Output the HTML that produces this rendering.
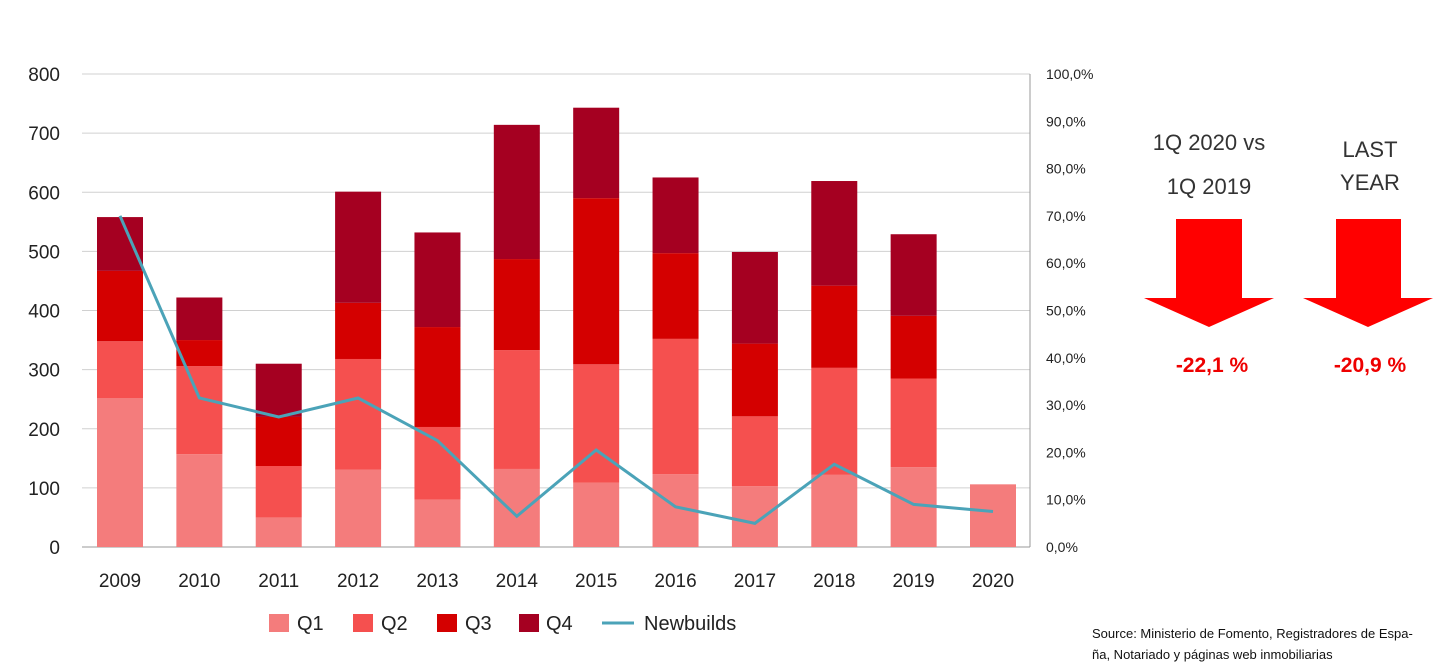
<!DOCTYPE html>
<html><head><meta charset="utf-8"><style>
body{margin:0;background:#fff;font-family:"Liberation Sans",sans-serif;}
svg text{font-family:"Liberation Sans",sans-serif;}
</style></head><body>
<svg width="1454" height="666" viewBox="0 0 1454 666">
<g id="grid"></g><g id="bars"></g><g id="line"></g><g id="labels"></g>
<g font-size="20" fill="#222">
<rect x="269" y="614" width="20" height="18" fill="#f47c7c"/><text x="297" y="630">Q1</text>
<rect x="353" y="614" width="20" height="18" fill="#f5504f"/><text x="381" y="630">Q2</text>
<rect x="437" y="614" width="20" height="18" fill="#d40000"/><text x="465" y="630">Q3</text>
<rect x="519" y="614" width="20" height="18" fill="#a50021"/><text x="546" y="630">Q4</text>
<line x1="602" y1="623" x2="634" y2="623" stroke="#4ba3b8" stroke-width="3"/><text x="644" y="630">Newbuilds</text>
</g>
<g font-size="22" fill="#333" text-anchor="middle">
<text x="1209" y="150">1Q 2020 vs</text><text x="1209" y="194">1Q 2019</text>
<path d="M1176 219H1242V298H1274L1209 327L1144 298H1176Z" fill="#f00"/>
<text x="1212" y="372" fill="#e00" font-weight="bold" font-size="21">-22,1 %</text>
</g>
<g font-size="22" fill="#333" text-anchor="middle">
<text x="1370" y="157">LAST</text><text x="1370" y="190">YEAR</text>
<path d="M1336 219H1401V298H1433L1368 327L1303 298H1336Z" fill="#f00"/>
<text x="1370" y="372" fill="#e00" font-weight="bold" font-size="21">-20,9 %</text>
</g>
<g font-size="13" fill="#111">
<text x="1092" y="638">Source: Ministerio de Fomento, Registradores de Espa-</text>
<text x="1092" y="659">ña, Notariado y páginas web inmobiliarias</text>
</g>
</svg>
<script>
const years=["2009","2010","2011","2012","2013","2014","2015","2016","2017","2018","2019","2020"];
const q1=[252,157,50,131,80,132,109,123,103,122,135,106];
const q2=[96,149,87,187,123,201,200,229,118,181,150,0];
const q3=[119,44,83,95,169,154,281,145,123,139,106,0];
const q4=[91,72,90,188,160,227,153,128,155,177,138,0];
const newbuilds=[70,31.5,27.5,31.5,22.5,6.5,20.5,8.5,5,17.5,9,7.5];
const leftTicks=[0,100,200,300,400,500,600,700,800];
const rightTicks=["0,0%","10,0%","20,0%","30,0%","40,0%","50,0%","60,0%","70,0%","80,0%","90,0%","100,0%"];
const NS="http://www.w3.org/2000/svg";
const x0=82,x1=1030,yTop=74,yBot=547;
const y=v=>yBot-(v/800)*(yBot-yTop);
const yp=p=>yBot-(p/100)*(yBot-yTop);
const xc=i=>120+i*(993-120)/(years.length-1);
function mk(t,a,p){const e=document.createElementNS(NS,t);for(const k in a)e.setAttribute(k,a[k]);document.getElementById(p).appendChild(e);return e;}
leftTicks.forEach(v=>{
 const l=mk('line',{x1:x0,x2:x1,y1:y(v),y2:y(v),stroke:v?'#d0d0d0':'#999','stroke-width':1},'grid');
 
 
 const t=mk('text',{x:60,y:y(v)+7,'text-anchor':'end','font-size':19,fill:'#222'},'labels');t.textContent=v;
 
 
});
mk('line',{x1:x1,x2:x1,y1:yTop,y2:yBot,stroke:'#999'},'grid');
rightTicks.forEach((s,i)=>{
 const t=mk('text',{x:1046,y:yp(i*10)+5,'font-size':14,fill:'#222'},'labels');t.textContent=s;
 
 
});
const series=[[q1,'#f47c7c'],[q2,'#f5504f'],[q3,'#d40000'],[q4,'#a50021']];
years.forEach((yr,i)=>{
 let base=0;
 series.forEach(([arr,c],k)=>{
  const v=arr[i];if(!v)return;
  const r=mk('rect',{x:xc(i)-23,width:46,y:y(base+v),height:y(base)-y(base+v),fill:c},'bars');
  
  
  base+=v;
 });
 const t=mk('text',{x:xc(i),y:587,'text-anchor':'middle','font-size':19,fill:'#222'},'labels');t.textContent=yr;
 
 
});
const pl=mk('polyline',{points:newbuilds.map((p,i)=>xc(i)+','+yp(p)).join(' '),fill:'none',stroke:'#4ba3b8','stroke-width':3},'line');


</script>
</body></html>
